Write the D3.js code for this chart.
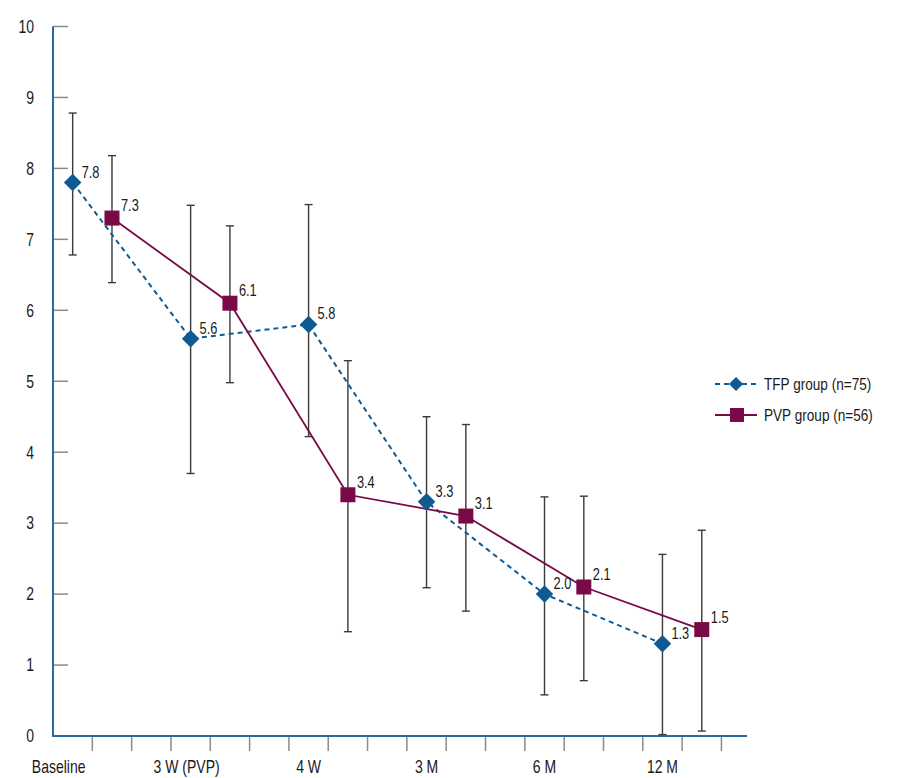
<!DOCTYPE html>
<html>
<head>
<meta charset="utf-8">
<script src="https://cdn.jsdelivr.net/npm/d3@7"></script>
<style>
  html, body { margin: 0; padding: 0; background: #fff; }
  svg { display: block; font-family: "Liberation Sans Narrow", "Arial Narrow", "Liberation Sans", sans-serif; }
</style>
</head>
<body>
<svg id="chart" width="905" height="778"></svg>
<script>
// ---- data ----
const categories = ["Baseline", "3 W (PVP)", "4 W", "3 M", "6 M", "12 M"];
const tfpMean = [7.8, 5.6, 5.8, 3.3, 2.0, 1.3];
const tfpLow  = [6.78, 3.70, 4.22, 2.09, 0.58, 0.02];
const tfpHigh = [8.78, 7.48, 7.49, 4.50, 3.37, 2.56];
const pvpMean = [7.3, 6.1, 3.4, 3.1, 2.1, 1.5];
const pvpLow  = [6.39, 4.98, 1.47, 1.76, 0.78, 0.07];
const pvpHigh = [8.18, 7.19, 5.29, 4.39, 3.38, 2.90];
const yTicks = [0, 1, 2, 3, 4, 5, 6, 7, 8, 9, 10];
const seriesNames = ["TFP group (n=75)", "PVP group (n=56)"];

// ---- layout ----
const svg = d3.select("#chart");
const blue = "#105a92";
const maroon = "#790a47";
const axisBlue = "#2d6aa0";
const tickGray = "#8a8a8a";
const barColor = "#3a3a3a";
const textColor = "#1a1a1a";

const x = d3.scaleLinear().domain([0, 17.65]).range([53, 747]);
const y = d3.scaleLinear().domain([0, 10]).range([736, 26.5]);

// slot positions: each category occupies 3 units, TFP at +0.5, PVP at +1.5
const tfpPos = categories.map((c, i) => 3 * i + 0.5);
const pvpPos = categories.map((c, i) => 3 * i + 1.5);

// ---- y axis ----
const yAxis = svg.append("g");
yAxis.selectAll("line.tick").data(yTicks).enter().append("line")
  .attr("x1", x(0)).attr("x2", x(0) + 15)
  .attr("y1", d => y(d)).attr("y2", d => y(d))
  .attr("stroke", tickGray).attr("stroke-width", 1.5);
yAxis.selectAll("text").data(yTicks).enter().append("text")
  .attr("x", 34).attr("y", d => y(d)).attr("dy", "0.36em")
  .attr("text-anchor", "end").attr("font-size", 17.5).attr("fill", textColor)
  .text(d => d);

// ---- x axis ----
const xTicks = d3.range(1, 18);
const xAxis = svg.append("g");
xAxis.selectAll("line").data(xTicks).enter().append("line")
  .attr("x1", d => x(d)).attr("x2", d => x(d))
  .attr("y1", y(0)).attr("y2", y(0) + 15)
  .attr("stroke", tickGray).attr("stroke-width", 1.5);
xAxis.selectAll("text").data(categories).enter().append("text")
  .attr("x", (d, i) => x(tfpPos[i]) - (i === 0 ? 14 : 0) - (i === 1 ? 4 : 0))
  .attr("y", 773)
  .attr("text-anchor", "middle").attr("font-size", 17.5).attr("fill", textColor)
  .text(d => d);

// axis lines
svg.append("line").attr("x1", x(0)).attr("x2", x(0)).attr("y1", y(10)).attr("y2", y(0) + 1)
  .attr("stroke", axisBlue).attr("stroke-width", 2);
svg.append("line").attr("x1", x(0)).attr("x2", x(17.65)).attr("y1", y(0)).attr("y2", y(0))
  .attr("stroke", axisBlue).attr("stroke-width", 2);

// ---- error bars ----
function errorBars(pos, lo, hi) {
  const g = svg.append("g").attr("stroke", barColor).attr("stroke-width", 1.4);
  pos.forEach((p, i) => {
    const cx = x(p);
    g.append("line").attr("x1", cx).attr("x2", cx).attr("y1", y(lo[i])).attr("y2", y(hi[i]));
    g.append("line").attr("x1", cx - 4).attr("x2", cx + 4).attr("y1", y(lo[i])).attr("y2", y(lo[i]));
    g.append("line").attr("x1", cx - 4).attr("x2", cx + 4).attr("y1", y(hi[i])).attr("y2", y(hi[i]));
  });
}
errorBars(tfpPos, tfpLow, tfpHigh);
errorBars(pvpPos, pvpLow, pvpHigh);

// ---- lines ----
const line = d3.line().x(d => x(d[0])).y(d => y(d[1]));
svg.append("path").datum(tfpPos.map((p, i) => [p, tfpMean[i]]))
  .attr("d", line).attr("fill", "none").attr("stroke", blue)
  .attr("stroke-width", 2).attr("stroke-dasharray", "5,4");
svg.append("path").datum(pvpPos.map((p, i) => [p, pvpMean[i]]))
  .attr("d", line).attr("fill", "none").attr("stroke", maroon)
  .attr("stroke-width", 1.8);

// ---- markers ----
svg.selectAll("rect.tfp").data(tfpMean).enter().append("rect")
  .attr("x", -6.2).attr("y", -6.2).attr("width", 12.4).attr("height", 12.4)
  .attr("fill", blue)
  .attr("transform", (d, i) => `translate(${x(tfpPos[i])},${y(d)}) rotate(45)`);
svg.selectAll("rect.pvp").data(pvpMean).enter().append("rect")
  .attr("x", (d, i) => x(pvpPos[i]) - 7.5).attr("y", d => y(d) - 7.5)
  .attr("width", 15).attr("height", 15).attr("fill", maroon);

// ---- value labels ----
svg.selectAll("text.tfpv").data(tfpMean).enter().append("text")
  .attr("x", (d, i) => x(tfpPos[i]) + 9).attr("y", d => y(d) - 5)
  .attr("font-size", 16).attr("fill", textColor)
  .text(d => d.toFixed(1));
svg.selectAll("text.pvpv").data(pvpMean).enter().append("text")
  .attr("x", (d, i) => x(pvpPos[i]) + 9).attr("y", d => y(d) - 7)
  .attr("font-size", 16).attr("fill", textColor)
  .text(d => d.toFixed(1));

// ---- legend ----
const lg = svg.append("g");
lg.append("line").attr("x1", 715).attr("x2", 757).attr("y1", 384).attr("y2", 384)
  .attr("stroke", blue).attr("stroke-width", 2).attr("stroke-dasharray", "5,4");
lg.append("rect").attr("x", -5).attr("y", -5).attr("width", 10).attr("height", 10)
  .attr("fill", blue).attr("transform", "translate(736,384) rotate(45)");
lg.append("text").attr("x", 764).attr("y", 384).attr("dy", "0.36em")
  .attr("font-size", 17).attr("fill", textColor).text(seriesNames[0]);
lg.append("line").attr("x1", 715).attr("x2", 757).attr("y1", 415).attr("y2", 415)
  .attr("stroke", maroon).attr("stroke-width", 1.8);
lg.append("rect").attr("x", 730).attr("y", 408).attr("width", 14).attr("height", 14)
  .attr("fill", maroon);
lg.append("text").attr("x", 764).attr("y", 415).attr("dy", "0.36em")
  .attr("font-size", 17).attr("fill", textColor).text(seriesNames[1]);

// condensed look: squeeze all text horizontally (no narrow font installed)
svg.selectAll("text").each(function () {
  const t = d3.select(this);
  const tx = +t.attr("x"), ty = +t.attr("y");
  t.attr("x", 0).attr("y", 0)
   .attr("transform", `translate(${tx},${ty}) scale(0.8,1)`);
});
</script>
</body>
</html>
